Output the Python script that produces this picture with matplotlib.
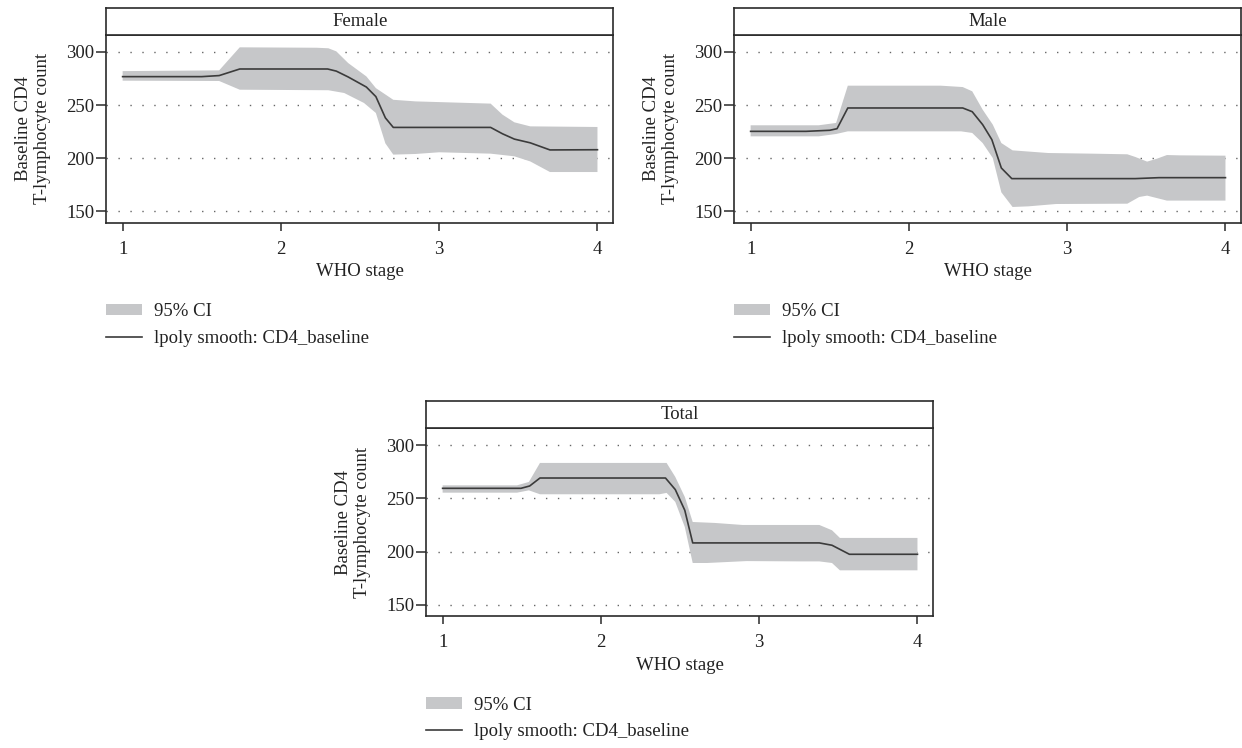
#!/usr/bin/env python3
"""Baseline CD4 count vs WHO stage: lpoly smooth with 95% CI, by sex and total."""

import matplotlib

matplotlib.use("Agg")
import matplotlib.pyplot as plt
import numpy as np
from matplotlib.lines import Line2D
from matplotlib.patches import Patch

# ---- data ------------------------------------------------------------------
female_x = [1.0, 1.5, 1.61, 1.74, 2.295, 2.35, 2.425, 2.54, 2.6, 2.66, 2.71,
            3.325, 3.4, 3.475, 3.575, 3.7, 4.0]
female_y = [276.8, 276.8, 277.8, 284.0, 284.0, 282.0, 276.5, 267.0, 258.0,
            238.0, 229.0, 229.0, 223.0, 218.0, 214.5, 207.8, 208.0]
female_hi_x = [1.0, 1.61, 1.74, 2.225, 2.3, 2.35, 2.425, 2.54, 2.6, 2.71, 2.85,
               3.325, 3.4, 3.475, 3.575, 4.0]
female_hi = [282.0, 282.7, 304.4, 304.0, 303.5, 300.6, 289.6, 277.0, 266.0,
             255.0, 253.5, 251.4, 241.0, 233.8, 230.0, 229.4]
female_lo_x = [1.0, 1.61, 1.74, 2.3, 2.4, 2.525, 2.6, 2.66, 2.71, 2.85, 3.0,
               3.325, 3.475, 3.575, 3.7, 4.0]
female_lo = [273.0, 272.7, 264.5, 264.0, 261.4, 252.0, 242.6, 214.0, 203.4,
             204.0, 205.6, 204.3, 201.8, 197.0, 187.0, 187.0]

male_x = [1.0, 1.35, 1.5, 1.546, 1.614, 2.34, 2.40, 2.466, 2.524, 2.584, 2.65,
          3.43, 3.58, 4.0]
male_y = [225.3, 225.3, 226.3, 227.8, 247.3, 247.3, 243.8, 231.6, 217.5, 190.8,
          180.8, 180.8, 181.7, 181.7]
male_hi_x = [1.0, 1.43, 1.54, 1.614, 2.2, 2.34, 2.40, 2.466, 2.53, 2.584, 2.655,
             2.88, 3.155, 3.38, 3.43, 3.505, 3.568, 3.63, 3.71, 4.0]
male_hi = [231.0, 231.0, 233.2, 268.3, 268.3, 267.0, 263.0, 245.7, 231.6, 214.3,
           207.4, 204.9, 204.3, 203.7, 201.2, 196.8, 199.6, 203.0, 202.7, 202.4]
male_lo_x = [1.0, 1.43, 1.54, 1.614, 2.33, 2.40, 2.466, 2.53, 2.584, 2.655,
             2.755, 2.93, 3.38, 3.455, 3.505, 3.63, 4.0]
male_lo = [220.6, 220.6, 222.8, 225.3, 225.3, 223.8, 214.3, 200.2, 167.9, 154.1,
           154.7, 156.9, 157.2, 163.5, 164.8, 160.1, 160.1]

total_x = [1.0, 1.495, 1.55, 1.615, 2.408, 2.47, 2.53, 2.58, 3.38, 3.46, 3.57, 4.0]
total_y = [259.5, 259.5, 261.7, 269.2, 269.2, 258.3, 238.8, 208.1, 208.1, 205.9,
           197.4, 197.4]
total_hi_x = [1.0, 1.47, 1.545, 1.615, 2.415, 2.47, 2.53, 2.58, 2.72, 2.895,
              3.38, 3.46, 3.51, 4.0]
total_hi = [262.3, 262.3, 265.5, 283.4, 283.4, 270.2, 251.4, 227.8, 226.9, 225.0,
            225.0, 220.0, 212.8, 212.8]
total_lo_x = [1.0, 1.47, 1.545, 1.615, 2.37, 2.415, 2.47, 2.53, 2.58, 2.67, 2.92,
              3.26, 3.38, 3.46, 3.51, 4.0]
total_lo = [255.4, 255.4, 257.6, 253.9, 253.9, 255.2, 246.7, 223.1, 189.2, 189.2,
            191.0, 190.7, 190.7, 189.2, 182.3, 182.3]

x_ticks = [1, 2, 3, 4]
y_ticks = [150, 200, 250, 300]

FILL = "#c6c7c9"
LINE = "#3b3b3b"
EDGE = "#2a2a2a"
TEXT = "#222222"
FS = 13.5

plt.rcParams.update({
    "font.family": ["Liberation Serif", "DejaVu Serif"],
    "font.size": FS,
    "text.color": TEXT,
    "xtick.labelcolor": TEXT,
    "ytick.labelcolor": TEXT,
    "axes.labelcolor": TEXT,
})


def draw_panel(fig, rect, title, x, y, hx, hi, lx, lo):
    left, bottom, width, height = rect
    strip_h = 27.5 / 748
    ax = fig.add_axes([left, bottom, width, height])
    strip = fig.add_axes([left, bottom + height, width, strip_h])
    strip.set_xticks([])
    strip.set_yticks([])
    for sp in strip.spines.values():
        sp.set_linewidth(1.2)
        sp.set_color(EDGE)
    strip.text(0.5, 0.5, title, ha="center", va="center", fontsize=FS,
               transform=strip.transAxes)

    poly_x = np.r_[hx, lx[::-1]]
    poly_y = np.r_[hi, lo[::-1]]
    ax.fill(poly_x, poly_y, color=FILL, lw=0, zorder=1)
    ax.plot(x, y, color=LINE, lw=1.2, zorder=2)

    ax.set_xlim(0.895, 4.1)
    ax.set_ylim(139.3, 316.0)
    ax.set_xticks(x_ticks)
    ax.set_yticks(y_ticks)
    ax.tick_params(axis="x", length=6, width=1.1, pad=7, labelsize=FS,
                   color=EDGE)
    ax.tick_params(axis="y", length=7.5, width=1.1, pad=1, labelsize=FS,
                   color=EDGE)
    for sp in ax.spines.values():
        sp.set_linewidth(1.2)
        sp.set_color(EDGE)
    ax.yaxis.grid(True, linestyle=(0, (1, 7.6)), color="#666666", lw=1.0)
    ax.set_axisbelow(True)
    ax.set_xlabel("WHO stage", fontsize=FS, labelpad=4)
    ax.set_ylabel("Baseline CD4\nT-lymphocyte count", fontsize=FS, labelpad=11,
                  linespacing=1.15)

    handles = [Patch(facecolor=FILL, edgecolor="none"),
               Line2D([], [], color=LINE, lw=1.2)]
    ax.legend(handles, ["95% CI", "lpoly smooth: CD4_baseline"],
              loc="upper left", bbox_to_anchor=(0.0, -0.43), frameon=False,
              borderpad=0, borderaxespad=0, handlelength=1.9,
              handleheight=0.55, handletextpad=0.65, labelspacing=0.5,
              fontsize=FS)
    return ax


fig = plt.figure(figsize=(12.42, 7.48), dpi=100)
fig.patch.set_facecolor("white")

W = 507.3 / 1242
H = 187.7 / 748
draw_panel(fig, [106 / 1242, 1 - 222.7 / 748, W, H], "Female",
           female_x, female_y, female_hi_x, female_hi, female_lo_x, female_lo)
draw_panel(fig, [734 / 1242, 1 - 222.7 / 748, W, H], "Male",
           male_x, male_y, male_hi_x, male_hi, male_lo_x, male_lo)
draw_panel(fig, [426 / 1242, 1 - 616 / 748, W, H], "Total",
           total_x, total_y, total_hi_x, total_hi, total_lo_x, total_lo)

fig.savefig("out.png", dpi=100, facecolor="white")
plt.close(fig)
